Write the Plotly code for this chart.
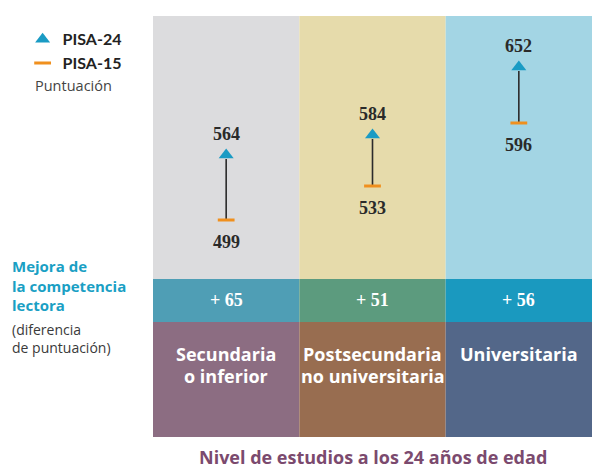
import plotly.graph_objects as go

categories = ["Secundaria<br>o inferior", "Postsecundaria<br>no universitaria", "Universitaria"]
pisa15 = [499, 533, 596]
pisa24 = [564, 584, 652]
improvement = [b - a for a, b in zip(pisa15, pisa24)]

top_colors = ["#dcdcde", "#e6dbab", "#a3d5e4"]
mid_colors = ["#4f9eb5", "#5c9b7e", "#1a99bf"]
bot_colors = ["#8c6d82", "#986d50", "#536789"]

TRI = "#1a9bc4"
ORANGE = "#f0901e"
SANS = "Lato, 'Open Sans', sans-serif"
SANS2 = "'Open Sans', Lato, sans-serif"
SERIF = "'Liberation Serif', 'DejaVu Serif', serif"

xs = list(range(len(categories)))

fig = go.Figure()

# connecting lines
lx, ly = [], []
for i, (a, b) in enumerate(zip(pisa15, pisa24)):
    lx += [i, i, None]
    ly += [a, b - 4, None]
fig.add_trace(go.Scatter(x=lx, y=ly, mode="lines", line=dict(color="#2b2b2b", width=1.6),
                         showlegend=False, hoverinfo="skip"))

fig.add_trace(go.Scatter(x=xs, y=pisa24, mode="markers", name="PISA-24",
                         marker=dict(symbol="triangle-up", size=13, color=TRI)))
fig.add_trace(go.Scatter(x=xs, y=pisa15, mode="markers", name="PISA-15",
                         marker=dict(symbol="line-ew", size=12, color=ORANGE,
                                     line=dict(width=3, color=ORANGE))))

shapes = []
annotations = []
bands = [(0.3753, 1.0, top_colors), (0.2732, 0.3753, mid_colors), (0.0, 0.2732, bot_colors)]
for y0, y1, cols in bands:
    for i, c in enumerate(cols):
        shapes.append(dict(type="rect", xref="x", yref="paper", x0=i - 0.5, x1=i + 0.5,
                           y0=y0, y1=y1, fillcolor=c, line=dict(width=0), layer="below"))

line_y = [0.1971, 0.1449]
for i in xs:
    annotations.append(dict(x=i, y=pisa24[i], xref="x", yref="y", text=str(pisa24[i]),
                            showarrow=False, yshift=21, yanchor="middle",
                            font=dict(family=SERIF, size=18, color="#2a2a2a", weight="bold")))
    annotations.append(dict(x=i, y=pisa15[i], xref="x", yref="y", text=str(pisa15[i]),
                            showarrow=False, yshift=-22, yanchor="middle",
                            font=dict(family=SERIF, size=18, color="#2a2a2a", weight="bold")))
    annotations.append(dict(x=i, y=0.3254, xref="x", yref="paper", text="+ " + str(improvement[i]),
                            showarrow=False, yanchor="middle",
                            font=dict(family=SERIF, size=18, color="white", weight="bold")))
    for k, part in enumerate(categories[i].split("<br>")):
        annotations.append(dict(x=i, y=line_y[k], xref="x", yref="paper", text=part,
                                showarrow=False, yanchor="middle", align="center",
                                font=dict(family=SANS2, size=18, color="white", weight="bold")))

annotations.append(dict(x=0.5, y=-0.047, xref="paper", yref="paper", yanchor="middle",
                        text="Nivel de estudios a los 24 años de edad", showarrow=False,
                        font=dict(family=SANS2, size=18, color="#7b4a6e", weight="bold")))
annotations.append(dict(x=-0.326, y=0.3587, xref="paper", yref="paper", xanchor="left",
                        yanchor="middle",
                        align="left", text="Mejora de<br>la competencia<br>lectora", showarrow=False,
                        font=dict(family=SANS2, size=15, color="#1a9fc4", weight="bold")))
annotations.append(dict(x=-0.326, y=0.234, xref="paper", yref="paper", xanchor="left",
                        yanchor="middle",
                        align="left", text="(diferencia<br>de puntuación)", showarrow=False,
                        font=dict(family=SANS2, size=14, color="#3a3a3a")))
annotations.append(dict(x=-0.274, y=0.836, xref="paper", yref="paper", xanchor="left",
                        yanchor="middle",
                        text="Puntuación", showarrow=False,
                        font=dict(family=SANS2, size=14.5, color="#444444")))

fig.update_layout(
    width=592, height=469,
    margin=dict(l=153, r=0, t=16, b=32),
    paper_bgcolor="white", plot_bgcolor="white",
    xaxis=dict(range=[-0.5, 2.5], visible=False, fixedrange=True),
    yaxis=dict(range=[282, 703], visible=False, fixedrange=True),
    shapes=shapes, annotations=annotations,
    legend=dict(x=-0.297, y=0.985, xanchor="left", yanchor="top", bgcolor="rgba(0,0,0,0)",
                font=dict(family=SANS, size=16, color="#222222", weight="bold"),
                itemsizing="trace"),
    showlegend=True,
)

fig.write_html("out.html", config={"displayModeBar": False},
               post_script="document.body.style.margin='0';")
